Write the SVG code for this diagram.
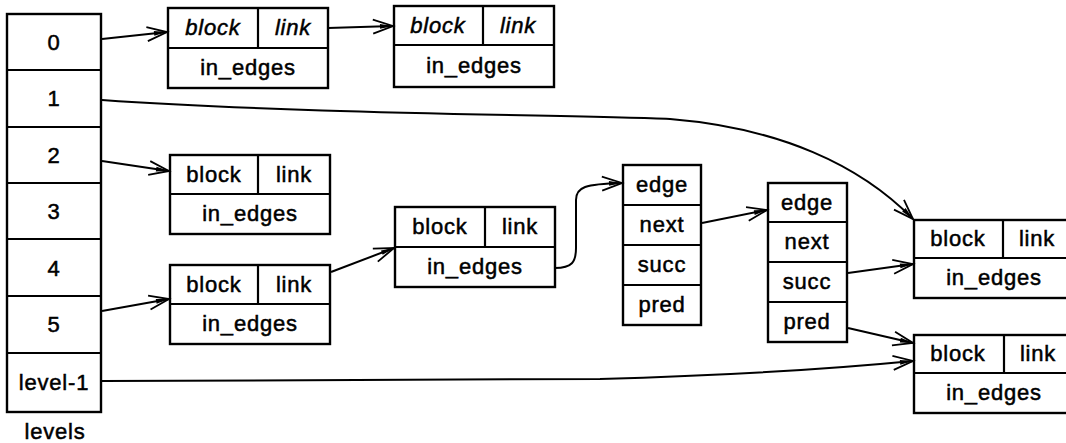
<svg xmlns="http://www.w3.org/2000/svg" width="1066" height="443" viewBox="0 0 1066 443">
<style>
  .box { fill: #fff; stroke: #000; stroke-width: 2.4; }
  .div { stroke: #000; stroke-width: 2.2; fill: none; }
  .t { font-family: "Liberation Sans", Arial, sans-serif; font-size: 22px; letter-spacing: 0.8px; text-anchor: middle; fill: #000; stroke: #000; stroke-width: 0.5; }
  .it { font-style: italic; }
  .conn { fill: none; stroke: #000; stroke-width: 2; marker-end: url(#arr); }
</style>
<defs>
  <marker id="arr" markerUnits="userSpaceOnUse" markerWidth="26" markerHeight="18" viewBox="-22 -9 24 18" refX="0" refY="0" orient="auto">
    <path d="M-20,-7 L0,0 L-20,7" fill="none" stroke="#000" stroke-width="1.8"/>
    <path d="M-13,-2.4 L0,0 L-13,2.4 Z" fill="#000"/>
  </marker>
</defs>
<rect width="1066" height="443" fill="#fff"/>

<g id="levels">
  <rect class="box" x="7" y="14" width="94" height="398"/>
  <path class="div" d="M7,70 H101 M7,127 H101 M7,183 H101 M7,239 H101 M7,296 H101 M7,353 H101"/>
  <text class="t" x="54" y="50">0</text>
  <text class="t" x="54" y="106">1</text>
  <text class="t" x="54" y="163">2</text>
  <text class="t" x="54" y="219">3</text>
  <text class="t" x="54" y="276">4</text>
  <text class="t" x="54" y="332">5</text>
  <text class="t" x="54" y="390">level-1</text>
  <text class="t" x="55" y="439">levels</text>
</g>

<g id="block0a">
  <rect class="box" x="168" y="8" width="160" height="80"/>
  <path class="div" d="M168,48 H328 M258,8 V48"/>
  <text class="t it" x="213" y="35">block</text>
  <text class="t it" x="293" y="35">link</text>
  <text class="t" x="248" y="75">in_edges</text>
</g>

<g id="block0b">
  <rect class="box" x="394" y="6" width="160" height="81"/>
  <path class="div" d="M394,45 H554 M483,6 V45"/>
  <text class="t it" x="438" y="33">block</text>
  <text class="t it" x="518" y="33">link</text>
  <text class="t" x="474" y="73">in_edges</text>
</g>

<g id="block2">
  <rect class="box" x="170" y="155" width="160" height="79"/>
  <path class="div" d="M170,194 H330 M258,155 V194"/>
  <text class="t" x="214" y="182">block</text>
  <text class="t" x="294" y="182">link</text>
  <text class="t" x="250" y="221">in_edges</text>
</g>

<g id="block5">
  <rect class="box" x="170" y="265" width="160" height="79"/>
  <path class="div" d="M170,304 H330 M258,265 V304"/>
  <text class="t" x="214" y="292">block</text>
  <text class="t" x="294" y="292">link</text>
  <text class="t" x="250" y="331">in_edges</text>
</g>

<g id="blockMid">
  <rect class="box" x="395" y="207" width="160" height="80"/>
  <path class="div" d="M395,247 H555 M485,207 V247"/>
  <text class="t" x="440" y="234">block</text>
  <text class="t" x="520" y="234">link</text>
  <text class="t" x="475" y="274">in_edges</text>
</g>

<g id="edge1">
  <rect class="box" x="623" y="165" width="78" height="160"/>
  <path class="div" d="M623,205 H701 M623,245 H701 M623,285 H701"/>
  <text class="t" x="662" y="192">edge</text>
  <text class="t" x="662" y="232">next</text>
  <text class="t" x="662" y="272">succ</text>
  <text class="t" x="662" y="312">pred</text>
</g>

<g id="edge2">
  <rect class="box" x="768" y="183" width="79" height="159"/>
  <path class="div" d="M768,222 H847 M768,262 H847 M768,302 H847"/>
  <text class="t" x="807" y="210">edge</text>
  <text class="t" x="807" y="249">next</text>
  <text class="t" x="807" y="289">succ</text>
  <text class="t" x="807" y="329">pred</text>
</g>

<g id="blockA">
  <rect class="box" x="914" y="220" width="158" height="78"/>
  <path class="div" d="M914,258 H1072 M1003,220 V258"/>
  <text class="t" x="958" y="246">block</text>
  <text class="t" x="1037" y="246">link</text>
  <text class="t" x="994" y="285">in_edges</text>
</g>

<g id="blockB">
  <rect class="box" x="914" y="335" width="158" height="78"/>
  <path class="div" d="M914,373 H1072 M1004,335 V373"/>
  <text class="t" x="958" y="361">block</text>
  <text class="t" x="1038" y="361">link</text>
  <text class="t" x="994" y="400">in_edges</text>
</g>

<g id="connectors">
  <path class="conn" d="M102,39 L167,32"/>
  <path class="conn" d="M328,28 L393,26"/>
  <path class="conn" d="M102,100 C300,114 580,115 670,119 C780,128 860,165 913,219"/>
  <path class="conn" d="M102,161 L169,171"/>
  <path class="conn" d="M102,311 L169,299"/>
  <path class="conn" d="M331,272 L394,248"/>
  <path class="conn" d="M555,268 C572,268 576,262 576,248 L576,200 C576,187 585,184 622,183"/>
  <path class="conn" d="M702,223 L767,210"/>
  <path class="conn" d="M848,273 L913,264"/>
  <path class="conn" d="M848,328 L913,343"/>
  <path class="conn" d="M102,381 L600,379 Q780,374 913,361"/>
</g>
</svg>
